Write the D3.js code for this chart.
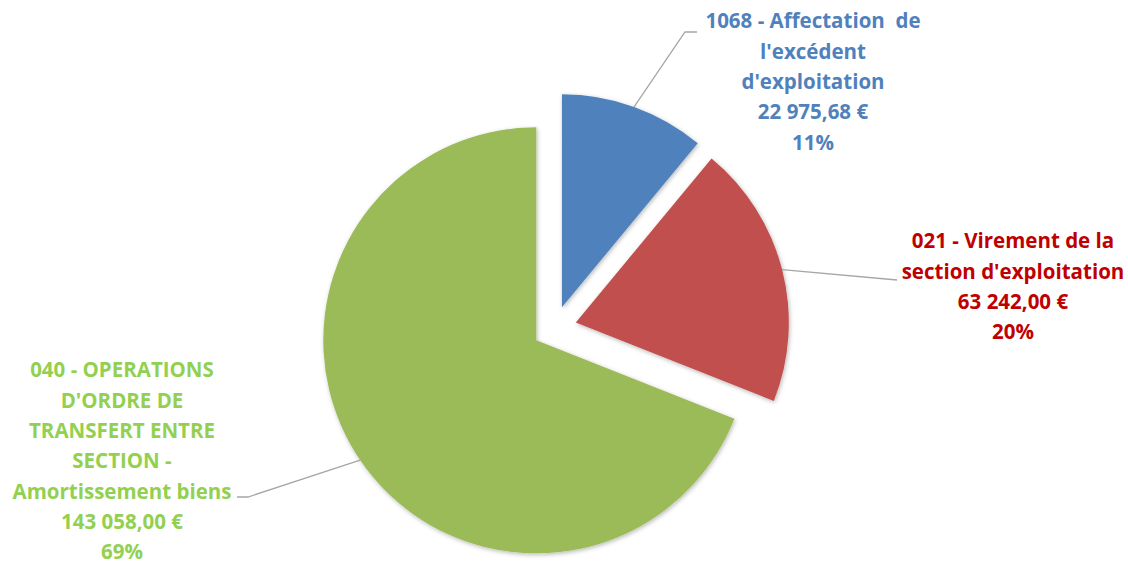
<!DOCTYPE html>
<html>
<head>
<meta charset="utf-8">
<script src="https://cdn.jsdelivr.net/npm/d3@7"></script>
<style>
  html, body { margin: 0; padding: 0; background: #ffffff; }
  svg { display: block; }
  .lbl { font-family: "Open Sans", Lato, sans-serif; font-weight: bold; white-space: pre; }
</style>
</head>
<body>
<svg id="chart" width="1128" height="565"></svg>
<script>
// Budget lines (recettes d'investissement)
const categories = [
  ["1068 - Affectation  de", "l'excédent", "d'exploitation"],
  ["021 - Virement de la", "section d'exploitation"],
  ["040 - OPERATIONS", "D'ORDRE DE", "TRANSFERT ENTRE", "SECTION -", "Amortissement biens"]
];
const amounts = [22975.68, 63242.00, 143058.00];
const shares = [11, 20, 69];

const sliceColors = ["#4F81BD", "#C0504D", "#9BBB59"];
const textColors = ["#4F81BD", "#C00000", "#92D050"];

// layout
const cx = 554.5, cy = 328, radius = 213, explode = 22;
const lineH = 30.3;
const labelLayout = [
  { x: 813,  y: 21,  leader: [[685, 32], [697, 32]] },
  { x: 1013, y: 241, leader: [[897, 280]] },
  { x: 122,  y: 370, leader: [[248, 497], [237, 497]] }
];

const fr = d3.formatLocale({ decimal: ",", thousands: "\u00a0", grouping: [3], currency: ["", " €"] });
const fmtEuro = v => fr.format(",.2f")(v) + " €";

const svg = d3.select("#chart");
const defs = svg.append("defs");
const f = defs.append("filter").attr("id", "shadow")
  .attr("x", "-10%").attr("y", "-10%").attr("width", "120%").attr("height", "120%");
f.append("feDropShadow").attr("dx", 1).attr("dy", 1.5).attr("stdDeviation", 2.2)
  .attr("flood-color", "#000").attr("flood-opacity", 0.28);

const data = shares.map((s, i) => ({ i, share: s, amount: amounts[i], lines: categories[i] }));
const pie = d3.pie().value(d => d.share).sort(null);
const arcs = pie(data);
const arc = d3.arc().innerRadius(0).outerRadius(radius);
const edgeArc = d3.arc().innerRadius(radius).outerRadius(radius);

const g = svg.append("g").attr("transform", `translate(${cx},${cy})`);

// each slice is pulled out along its bisector
const offset = a => {
  const mid = (a.startAngle + a.endAngle) / 2;
  return [Math.sin(mid) * explode, -Math.cos(mid) * explode];
};

g.selectAll("path.slice").data(arcs).join("path")
  .attr("class", "slice")
  .attr("d", arc)
  .attr("fill", d => sliceColors[d.index])
  .attr("filter", "url(#shadow)")
  .attr("transform", d => { const o = offset(d); return `translate(${o[0]},${o[1]})`; });

// leader lines from the slice edge to each label
arcs.forEach(a => {
  const o = offset(a);
  const c = edgeArc.centroid(a);
  const start = [cx + o[0] + c[0], cy + o[1] + c[1]];
  const pts = [start].concat(labelLayout[a.index].leader);
  svg.append("path")
    .attr("d", d3.line()(pts))
    .attr("fill", "none")
    .attr("stroke", "#A6A6A6")
    .attr("stroke-width", 1.3);
});

// labels: name, amount, share
arcs.forEach(a => {
  const L = labelLayout[a.index];
  const lines = a.data.lines.concat([fmtEuro(a.data.amount), a.data.share + "%"]);
  const t = svg.append("text")
    .attr("class", "lbl")
    .attr("text-anchor", "middle")
    .attr("fill", textColors[a.index])
    .attr("font-size", 20.5);
  lines.forEach((s, k) => {
    t.append("tspan")
      .attr("x", L.x)
      .attr("y", L.y + k * lineH)
      .attr("dy", "0.36em")
      .text(s);
  });
});
</script>
</body>
</html>
